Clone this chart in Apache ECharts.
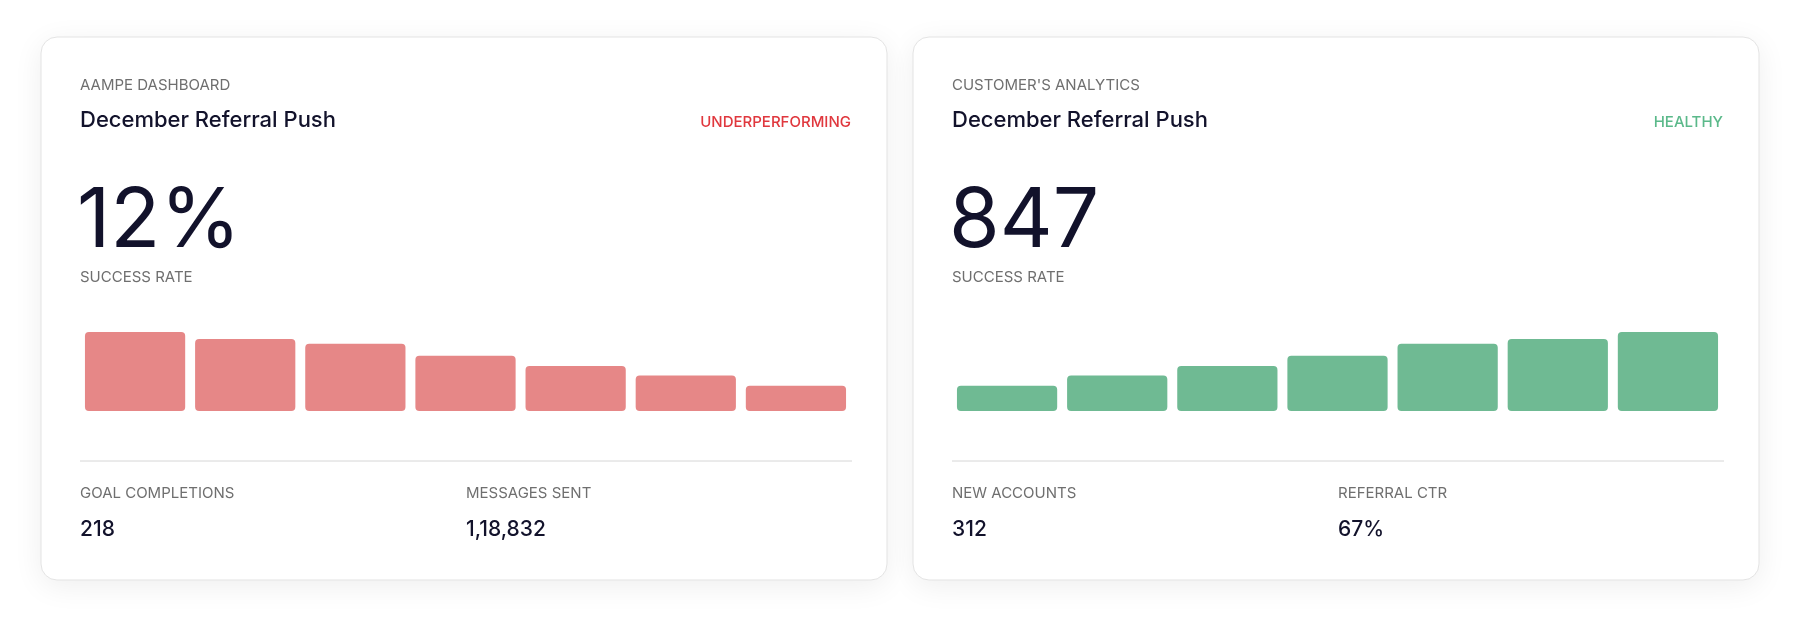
<!DOCTYPE html>
<html>
<head>
<meta charset="utf-8">
<script src="https://cdn.jsdelivr.net/npm/echarts@6/dist/echarts.min.js"></script>
<style>
html, body { margin: 0; padding: 0; background: #fff; }
#main { width: 1800px; height: 624px; }
</style>
</head>
<body>
<div id="main"></div>
<script>
// bar values (relative heights)
var days = ['1', '2', '3', '4', '5', '6', '7'];
var leftValues = [100, 91, 85, 70, 57, 45, 32];
var rightValues = [32, 45, 57, 70, 85, 91, 100];

var leftCard = {
    eyebrow: 'AAMPE DASHBOARD', title: 'December Referral Push',
    status: 'UNDERPERFORMING', statusColor: '#e0383e',
    big: '12%', bigLabel: 'SUCCESS RATE',
    stat1Label: 'GOAL COMPLETIONS', stat1: '218',
    stat2Label: 'MESSAGES SENT', stat2: '1,18,832'
};
var rightCard = {
    eyebrow: "CUSTOMER'S ANALYTICS", title: 'December Referral Push',
    status: 'HEALTHY', statusColor: '#5bb98a',
    big: '847', bigLabel: 'SUCCESS RATE',
    stat1Label: 'NEW ACCOUNTS', stat1: '312',
    stat2Label: 'REFERRAL CTR', stat2: '67%'
};

var FONT = 'Inter, "Noto Sans", sans-serif';
var GREY = '#6f6f6f';
var DARK = '#12122b';

function txt(x, y, s, size, color, weight, align, spacing) {
    return {
        type: 'text', x: x, y: y,
        style: {
            text: s, fontSize: size, fill: color, fontFamily: FONT,
            fontWeight: weight || 400, textAlign: align || 'left',
            textVerticalAlign: 'middle'
        }
    };
}

function cardGraphics(c, x0) {
    var px = x0 + 39, right = x0 + 810;
    return [
        {
            type: 'rect', z: -10,
            shape: {x: x0, y: 37, width: 846, height: 543, r: 16},
            style: {fill: '#fff', stroke: '#e3e3e3', lineWidth: 1,
                shadowBlur: 30, shadowColor: 'rgba(0,0,0,0.07)', shadowOffsetY: 6}
        },
        txt(px, 85, c.eyebrow, 15, GREY),
        txt(px, 120, c.title, 22, DARK, 500),
        txt(right, 122, c.status, 15, c.statusColor, 500, 'right'),
        txt(px - 3, 222, c.big, 82, DARK, 400),
        txt(px, 277, c.bigLabel, 15, GREY),
        {
            type: 'line',
            shape: {x1: px, y1: 461, x2: x0 + 811, y2: 461},
            style: {stroke: '#d6d6d6', lineWidth: 1}
        },
        txt(px, 493, c.stat1Label, 15, GREY),
        txt(px, 530, c.stat1, 21, DARK, 500),
        txt(px + 386, 493, c.stat2Label, 15, GREY),
        txt(px + 386, 530, c.stat2, 21, DARK, 500)
    ];
}

var myChart = echarts.init(document.getElementById('main'));
function barSeries(idx, data, color) {
    return {
        type: 'bar', xAxisIndex: idx, yAxisIndex: idx,
        data: data, barCategoryGap: '9%', silent: true,
        itemStyle: {color: color, borderRadius: 4}
    };
}
var axisOff = {show: false};
myChart.setOption({
    animation: false,
    grid: [
        {left: 80, top: 332, width: 771, height: 79},
        {left: 952, top: 332, width: 771, height: 79}
    ],
    xAxis: [
        {type: 'category', data: days, gridIndex: 0, show: false},
        {type: 'category', data: days, gridIndex: 1, show: false}
    ],
    yAxis: [
        {type: 'value', gridIndex: 0, min: 0, max: 100, show: false},
        {type: 'value', gridIndex: 1, min: 0, max: 100, show: false}
    ],
    graphic: cardGraphics(leftCard, 41).concat(cardGraphics(rightCard, 913)),
    series: [
        barSeries(0, leftValues, '#e68787'),
        barSeries(1, rightValues, '#6fba93')
    ]
});
</script>
</body>
</html>
